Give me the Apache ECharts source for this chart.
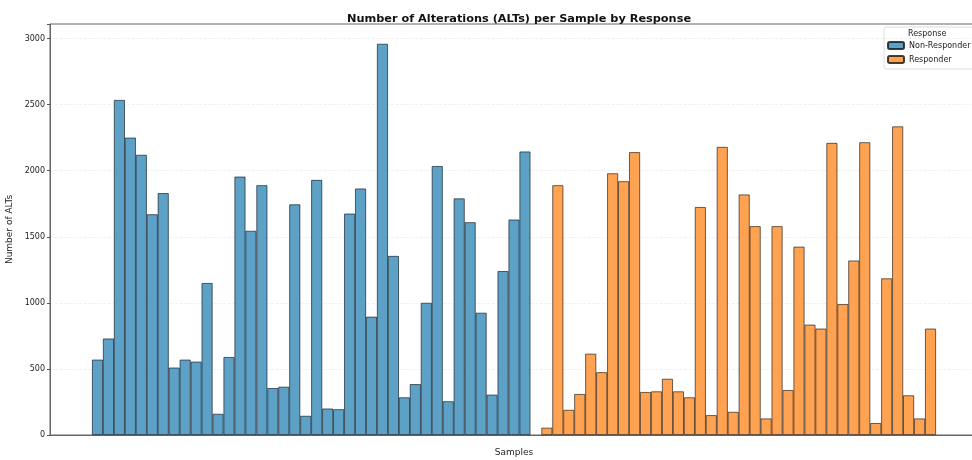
<!DOCTYPE html>
<html><head><meta charset="utf-8">
<script src="https://cdn.jsdelivr.net/npm/echarts@6/dist/echarts.min.js"></script>
<style>html,body{margin:0;padding:0;background:#fff}#c{width:972px;height:460px}</style>
</head><body><div id="c"></div>
<script>
const nonResponder = [570,730,2535,2250,2120,1670,1830,510,570,555,1150,160,590,1955,1545,1890,355,365,1745,145,1930,200,195,1675,1865,895,2960,1355,285,385,1000,2035,255,1790,1610,925,305,1240,1630,2145];
const responder = [55,1890,190,310,615,475,1980,1920,2140,325,330,425,330,285,1725,150,2180,175,1820,1580,125,1580,340,1425,835,805,2210,990,1320,2215,90,1185,2335,300,125,805];
const gapSlots = 1;
const yTicks = [0,500,1000,1500,2000,2500,3000];

const nrData = nonResponder.map((v,i)=>[i,v]);
const rStart = nonResponder.length + gapSlots;
const rData = responder.map((v,i)=>[rStart+i,v]);
const nTotal = rStart + responder.length;

const font = 'DejaVu Sans';
const chart = echarts.init(document.getElementById('c'));
chart.setOption({
  animation:false,
  title:{text:'Number of Alterations (ALTs) per Sample by Response',left:514,textAlign:'center',top:9,
    textStyle:{fontFamily:font,fontSize:11.3,fontWeight:'bold',color:'#111'}},
  grid:{left:50,top:24,width:928,height:411,show:true,borderColor:'#666',borderWidth:1,
    outerBoundsMode:'none',containLabel:false},
  legend:{orient:'vertical',left:884,top:27,padding:[14,8,5,3],itemGap:5,itemWidth:16,itemHeight:7,
    borderColor:'#ddd',borderWidth:1,borderRadius:2,
    textStyle:{fontFamily:font,fontSize:8,color:'#222'},
    data:['Non-Responder','Responder']},
  graphic:[{type:'text',left:908,top:30,style:{text:'Response',fontFamily:font,fontSize:8,fill:'#222'}}],
  xAxis:{type:'value',min:-4.33,max:nTotal-1+4.33,name:'Samples',nameLocation:'middle',nameGap:13,
    nameTextStyle:{fontFamily:font,fontSize:9,color:'#222'},
    axisLine:{show:true,onZero:false,lineStyle:{color:'#666'}},axisTick:{show:false},axisLabel:{show:false},splitLine:{show:false}},
  yAxis:{type:'value',min:0,max:3110,interval:500,name:'Number of ALTs',nameLocation:'middle',nameGap:35,
    nameTextStyle:{fontFamily:font,fontSize:9,color:'#222'},
    axisLine:{show:true,onZero:false,lineStyle:{color:'#666'}},axisTick:{show:true,length:3,lineStyle:{color:'#555'}},
    axisLabel:{fontFamily:font,fontSize:8,color:'#222',margin:5,
      formatter:v=>yTicks.includes(v)?String(v):''},
    splitLine:{show:true,showMinLine:false,showMaxLine:false,lineStyle:{color:'#eeeeee',type:'dashed',width:0.8}}},
  series:[
    {name:'Non-Responder',type:'bar',data:nrData,barWidth:11,barGap:'-100%',
      itemStyle:{color:'#5DA2C6',borderColor:'rgba(20,30,40,0.85)',borderWidth:0.8}},
    {name:'Responder',type:'bar',data:rData,barWidth:11,barGap:'-100%',
      itemStyle:{color:'#FFA352',borderColor:'rgba(40,30,20,0.85)',borderWidth:0.8}}
  ]
});
</script></body></html>
